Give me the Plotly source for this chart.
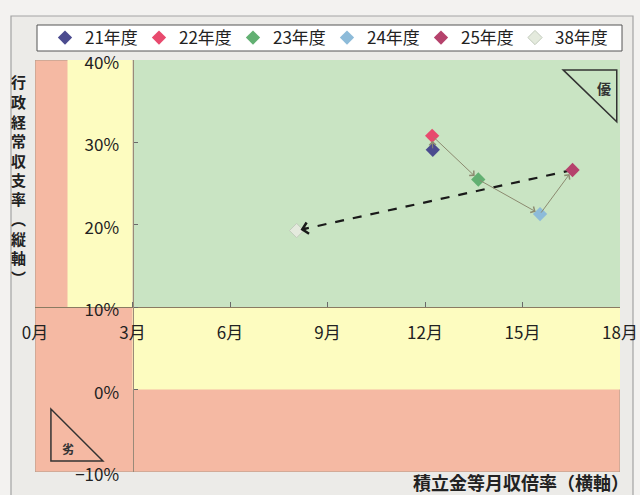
import plotly.graph_objects as go

# ---- data ----
years = ["21年度", "22年度", "23年度", "24年度", "25年度", "38年度"]
reserve_months = [12.24, 12.22, 13.64, 15.54, 16.54, 8.05]   # 積立金等月収倍率 (months)
balance_rate = [29.1, 30.8, 25.5, 21.3, 26.65, 19.3]          # 行政経常収支率 (%)
marker_colors = ["#4b4b8f", "#e84a6e", "#62b072", "#8dbbd9", "#b5426c", "#e4eadd"]

x_tickvals = [0, 3, 6, 9, 12, 15, 18]
x_ticktext = ["0月", "3月", "6月", "9月", "12月", "15月", "18月"]
y_tickvals = [-10, 0, 10, 20, 30, 40]
y_ticktext = ["−10%", "0%", "10%", "20%", "30%", "40%"]
y_title_chars = list("行政経常収支率") + ["︵", "縦", "軸", "︶"]

x_range = [0, 18]
y_range = [-10, 40]
x_warn, x_good = 1, 3      # zone boundaries (months)
y_low, y_good = 0, 10      # zone boundaries (%)

RED = "#f5b9a3"
YELLOW = "#fdfcc0"
GREEN = "#c9e4c3"
FONT = "Noto Sans CJK JP"
TXT = "#222222"

W, H = 640, 495
ML, MR, MT, MB = 35, 20, 60, 23
PW, PH = W - ML - MR, H - MT - MB


def px_x(px):
    return (px - ML) / PW


def px_y(py):
    return (H - MB - py) / PH


fig = go.Figure()

# dashed arrow line 25年度 -> 38年度
fig.add_trace(go.Scatter(
    x=[reserve_months[4], reserve_months[5]], y=[balance_rate[4], balance_rate[5]],
    mode="lines", line=dict(color="#1a1a1a", width=2.2, dash="dash"),
    showlegend=False, hoverinfo="skip"))

for i, name in enumerate(years):
    line = dict(color="#c3ccbd", width=1) if i == 5 else dict(width=0)
    fig.add_trace(go.Scatter(
        x=[reserve_months[i]], y=[balance_rate[i]], name=name, mode="markers",
        marker=dict(symbol="diamond", size=11, color=marker_colors[i], line=line)))

annotations = []
for i in range(4):
    annotations.append(dict(
        x=reserve_months[i + 1], y=balance_rate[i + 1], ax=reserve_months[i], ay=balance_rate[i],
        xref="x", yref="y", axref="x", ayref="y", text="", showarrow=True,
        arrowhead=4, arrowsize=1.3, arrowwidth=1, arrowcolor="#8c8a70", standoff=5))
# arrow head for the dashed line
f = 0.04
annotations.append(dict(
    x=reserve_months[5], y=balance_rate[5],
    ax=reserve_months[5] + f * (reserve_months[4] - reserve_months[5]),
    ay=balance_rate[5] + f * (balance_rate[4] - balance_rate[5]),
    xref="x", yref="y", axref="x", ayref="y", text="", showarrow=True,
    arrowhead=4, arrowsize=1.1, arrowwidth=2, arrowcolor="#1a1a1a", standoff=4))

# vertical axis title, one character per annotation
for k, ch in enumerate(y_title_chars):
    annotations.append(dict(
        x=px_x(18), y=px_y(82 + 19.5 * k), xref="paper", yref="paper",
        xanchor="center", yanchor="middle", text="<b>" + ch + "</b>", showarrow=False,
        font=dict(family=FONT, size=15, color=TXT)))
annotations.append(dict(
    x=px_x(631), y=px_y(482), xref="paper", yref="paper", xanchor="right", yanchor="middle",
    text="<b>積立金等月収倍率（横軸）</b>", showarrow=False,
    font=dict(family=FONT, size=18, color=TXT)))
# 優 / 劣 labels
annotations.append(dict(x=17.5, y=36.6, xref="x", yref="y", text="<b>優</b>", showarrow=False,
                        font=dict(family=FONT, size=14, color="#333")))
annotations.append(dict(x=1.02, y=-7.1, xref="x", yref="y", text="<b>劣</b>", showarrow=False,
                        font=dict(family=FONT, size=12, color="#333")))

shapes = [
    # outer frame
    dict(type="rect", xref="paper", yref="paper", x0=px_x(11), x1=px_x(633), y0=px_y(505), y1=px_y(16),
         line=dict(color="#a3a3a3", width=1.2), fillcolor="#ecebe8", layer="below"),
    # legend box
    dict(type="rect", xref="paper", yref="paper", x0=px_x(37), x1=px_x(622), y0=px_y(51), y1=px_y(25),
         line=dict(color="#555555", width=1), fillcolor="#ffffff", layer="below"),
    # zones
    dict(type="rect", xref="x", yref="y", x0=x_range[0], x1=x_range[1], y0=y_range[0], y1=y_range[1],
         line=dict(color="#b09a8a", width=1), fillcolor=RED, layer="below"),
    dict(type="rect", xref="x", yref="y", x0=x_warn, x1=x_good, y0=y_good, y1=y_range[1],
         line=dict(width=0), fillcolor=YELLOW, layer="below"),
    dict(type="rect", xref="x", yref="y", x0=x_good, x1=x_range[1], y0=y_low, y1=y_good,
         line=dict(width=0), fillcolor=YELLOW, layer="below"),
    dict(type="rect", xref="x", yref="y", x0=x_good, x1=x_range[1], y0=y_good, y1=y_range[1],
         line=dict(width=0), fillcolor=GREEN, layer="below"),
    # triangles
    dict(type="path", xref="x", yref="y", path="M 16.25 38.8 L 17.9 38.8 L 17.9 32.5 Z",
         line=dict(color="#333333", width=1.5), fillcolor="rgba(0,0,0,0)"),
    dict(type="path", xref="x", yref="y", path="M 0.49 -2.35 L 0.49 -8.66 L 2.09 -8.66 Z",
         line=dict(color="#333333", width=1.5), fillcolor="rgba(0,0,0,0)"),
]

fig.update_layout(
    width=W, height=H,
    margin=dict(l=ML, r=MR, t=MT, b=MB, autoexpand=False),
    paper_bgcolor="#f3f2f0",
    plot_bgcolor="rgba(0,0,0,0)",
    font=dict(family=FONT, size=17, color=TXT),
    showlegend=True,
    legend=dict(orientation="h", x=px_x(45), xanchor="left", y=px_y(38), yanchor="middle",
                bgcolor="rgba(0,0,0,0)", borderwidth=0,
                font=dict(family=FONT, size=17, color=TXT),
                entrywidth=49, entrywidthmode="pixels", itemclick=False),
    xaxis=dict(range=x_range, tickvals=x_tickvals, ticktext=x_ticktext, automargin=False,
               anchor="free", position=(y_good - y_range[0]) / (y_range[1] - y_range[0]),
               showgrid=False, zeroline=False, showline=True, linecolor="#8a7b62", linewidth=1,
               ticks="inside", ticklen=5, tickcolor="#6a6a6a", ticklabelstandoff=10,
               tickfont=dict(family=FONT, size=17, color=TXT)),
    yaxis=dict(range=y_range, tickvals=y_tickvals, ticktext=y_ticktext, automargin=False,
               anchor="free", position=(x_good - x_range[0]) / (x_range[1] - x_range[0]),
               showgrid=False, zeroline=False, showline=True, linecolor="#9a8a78", linewidth=1,
               ticks="inside", ticklen=4, tickcolor="#6a6a6a", ticklabelstandoff=10,
               ticklabelshift=3,
               tickfont=dict(family=FONT, size=17, color=TXT)),
    annotations=annotations,
    shapes=shapes,
)

fig.write_html("out.html")
